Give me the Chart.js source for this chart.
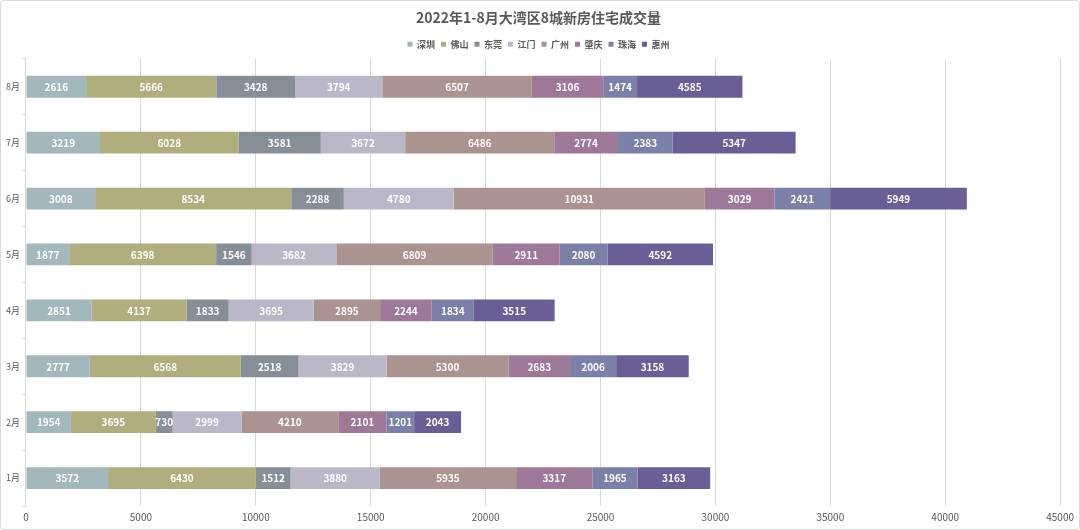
<!DOCTYPE html>
<html>
<head>
<meta charset="utf-8">
<script src="https://cdn.jsdelivr.net/npm/chart.js@4"></script>
<style>
    html, body { margin: 0; padding: 0; background: #fff; }
    #wrap { position: relative; width: 1078px; height: 528px; border: 1px solid #d9d9d9; border-radius: 4px; }
</style>
</head>
<body>
<div id="wrap"><canvas id="myChart" width="1078" height="528"></canvas></div>
<script>
// months, bottom to top
var months = ['1月', '2月', '3月', '4月', '5月', '6月', '7月', '8月'];
var cities = ['深圳', '佛山', '东莞', '江门', '广州', '肇庆', '珠海', '惠州'];
var colors = ['#a2b8bc', '#afae7c', '#868f98', '#bab8c8', '#ab9390', '#9e7898', '#7b80a8', '#6b5d96'];

var shenzhen = [3572, 1954, 2777, 2851, 1877, 3008, 3219, 2616];
var foshan   = [6430, 3695, 6568, 4137, 6398, 8534, 6028, 5666];
var dongguan = [1512, 730, 2518, 1833, 1546, 2288, 3581, 3428];
var jiangmen = [3880, 2999, 3829, 3695, 3682, 4780, 3672, 3794];
var guangzhou = [5935, 4210, 5300, 2895, 6809, 10931, 6486, 6507];
var zhaoqing = [3317, 2101, 2683, 2244, 2911, 3029, 2774, 3106];
var zhuhai   = [1965, 1201, 2006, 1834, 2080, 2421, 2383, 1474];
var huizhou  = [3163, 2043, 3158, 3515, 4592, 5949, 5347, 4585];

var xTicks = [0, 5000, 10000, 15000, 20000, 25000, 30000, 35000, 40000, 45000];

var series = [shenzhen, foshan, dongguan, jiangmen, guangzhou, zhaoqing, zhuhai, huizhou];
var font = '"Noto Sans CJK SC", "Noto Sans", sans-serif';

// white numbers in the middle of each segment
var segLabels = {
    id: 'segLabels',
    afterDatasetsDraw: function (chart) {
        var ctx = chart.ctx;
        ctx.save();
        ctx.fillStyle = '#ffffff';
        ctx.font = 'bold 10px ' + font;
        ctx.textAlign = 'center';
        ctx.textBaseline = 'middle';
        chart.data.datasets.forEach(function (ds, i) {
            var meta = chart.getDatasetMeta(i);
            if (meta.hidden) return;
            meta.data.forEach(function (bar, j) {
                var p = bar.getProps(['x', 'y', 'base'], true);
                ctx.fillText(String(ds.data[j]), (p.x + p.base) / 2, p.y + 0.5);
            });
        });
        ctx.restore();
    }
};

var ctx = document.getElementById('myChart');
var myChart = new Chart(ctx, {
    type: 'bar',
    data: {
        labels: months,
        datasets: cities.map(function (c, i) {
            return {
                label: c,
                data: series[i],
                backgroundColor: colors[i],
                borderWidth: 0,
                barPercentage: 0.78,
                categoryPercentage: 0.5
            };
        })
    },
    options: {
        indexAxis: 'y',
        responsive: false,
        animation: false,
        layout: { padding: { left: 3, right: 6, top: 2, bottom: 1 } },
        scales: {
            x: {
                stacked: true,
                min: 0,
                max: 45000,
                afterBuildTicks: function (axis) {
                    axis.ticks = xTicks.map(function (v) { return { value: v }; });
                },
                grid: { color: '#d9d9d9', drawTicks: false },
                border: { display: false },
                ticks: {
                    color: '#595959',
                    font: { family: font, size: 10 },
                    padding: 5,
                    maxRotation: 0,
                    callback: function (v) { return String(v); }
                }
            },
            y: {
                stacked: true,
                reverse: true,
                grid: { offset: true, drawOnChartArea: false, tickLength: 4, color: '#d9d9d9' },
                border: { display: true, color: '#d9d9d9' },
                ticks: { color: '#595959', font: { family: font, size: 9 }, padding: 2 }
            }
        },
        plugins: {
            title: {
                display: true,
                text: '2022年1-8月大湾区8城新房住宅成交量',
                color: '#595959',
                font: { family: font, size: 14, weight: 'bold' },
                padding: { top: 6, bottom: 8 }
            },
            legend: {
                display: true,
                labels: {
                    color: '#595959',
                    boxWidth: 5,
                    boxHeight: 5,
                    padding: 6,
                    font: { family: font, size: 9, weight: 'bold' }
                }
            },
            tooltip: { enabled: false }
        }
    },
    plugins: [segLabels]
});
</script>
</body>
</html>
